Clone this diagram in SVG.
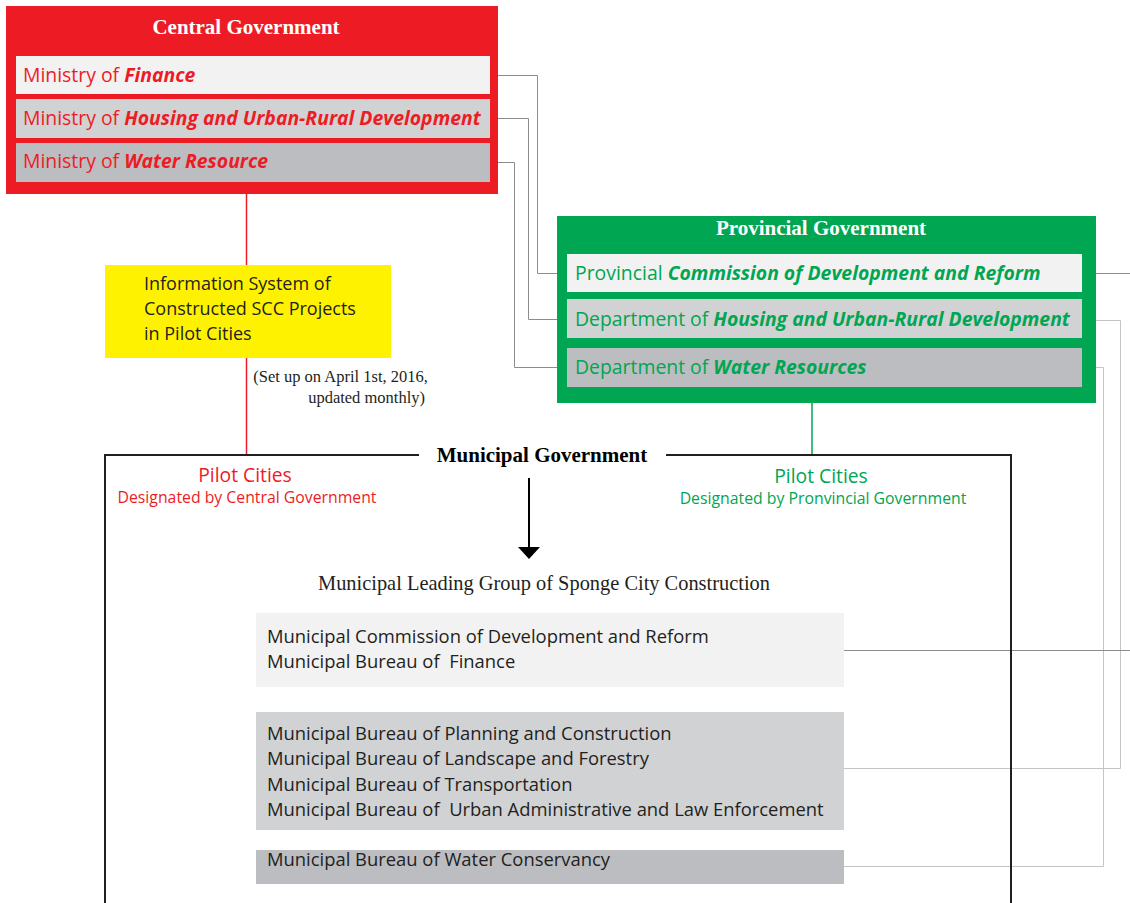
<svg xmlns="http://www.w3.org/2000/svg" width="1130" height="903" viewBox="0 0 1130 903">
  <style>
    .sans { font-family: "Open Sans", "Noto Sans", sans-serif; }
    .serif { font-family: "Liberation Serif", "DejaVu Serif", serif; }
    .title { font-family: "Liberation Serif", serif; font-weight: bold; font-size: 21px; text-anchor: middle; }
    .row-lt { fill: #F2F2F2; }
    .row-md { fill: #D1D2D4; }
    .row-dk { fill: #BCBDC0; }
    .red { fill: #ED1C24; }
    .green { fill: #00A651; }
    .em { font-weight: bold; font-style: italic; }
    .lvl { font-family: "Open Sans", sans-serif; font-size: 19.4px; }
    .muni { font-family: "Open Sans", sans-serif; font-size: 18.4px; fill: #231F20; }
    .link { fill: none; stroke: #8C8C8C; stroke-width: 1; }
    .link-lt { fill: none; stroke: #C4C4C4; stroke-width: 1; }
  </style>
  <defs>
    <marker id="arrow" markerWidth="12" markerHeight="22" refX="0" refY="11" orient="auto" markerUnits="userSpaceOnUse" viewBox="0 0 12 22">
      <path d="M0,0 L12,11 L0,22 Z" fill="#000"/>
    </marker>
  </defs>

  <rect width="1130" height="903" fill="#FFFFFF"/>

  <!-- connectors -->
  <g id="connectors">
    <!-- central ministries to provincial departments -->
    <polyline class="link" points="490,75.5 537.5,75.5 537.5,273.5 567,273.5"/>
    <polyline class="link" points="490,118.5 528.5,118.5 528.5,319.5 567,319.5"/>
    <polyline class="link" points="490,162.5 514.5,162.5 514.5,367.5 567,367.5"/>
    <!-- provincial departments to municipal bureaus -->
    <polyline class="link" points="1082,273.5 1130,273.5"/>
    <polyline class="link-lt" points="1082,320.5 1120.5,320.5 1120.5,768.5 844,768.5"/>
    <polyline class="link-lt" points="1082,367.5 1103.5,367.5 1103.5,866.5 844,866.5"/>
    <polyline class="link" points="844,650.5 1130,650.5"/>
    <!-- vertical links into municipal level -->
    <line x1="246.5" y1="194" x2="246.5" y2="265" stroke="#ED1C24" stroke-width="1.5"/>
    <line x1="246.5" y1="358" x2="246.5" y2="455" stroke="#ED1C24" stroke-width="1.5"/>
    <line x1="812" y1="403" x2="812" y2="455" stroke="#00A651" stroke-width="1.5"/>
    <!-- arrow to leading group -->
    <line x1="529" y1="478" x2="529" y2="547" stroke="#000" stroke-width="2" marker-end="url(#arrow)"/>
  </g>

  <!-- central government -->
  <g id="central">
    <rect x="6" y="6" width="492" height="188" fill="#ED1C24"/>
    <text class="title" x="246" y="34" fill="#FFFFFF">Central Government</text>
    <rect class="row-lt" x="16" y="56" width="474" height="38"/>
    <rect class="row-md" x="16" y="99" width="474" height="39"/>
    <rect class="row-dk" x="16" y="143" width="474" height="39"/>
    <text class="lvl red" x="23" y="82">Ministry of <tspan class="em">Finance</tspan></text>
    <text class="lvl red" x="23" y="125">Ministry of <tspan class="em">Housing and Urban-Rural Development</tspan></text>
    <text class="lvl red" x="23" y="168">Ministry of <tspan class="em">Water Resource</tspan></text>
  </g>

  <!-- information system -->
  <g id="info-system">
    <rect x="105" y="265" width="286" height="93" fill="#FFF200"/>
    <text class="sans" font-size="18" fill="#231F20">
      <tspan x="144" y="290">Information System of</tspan>
      <tspan x="144" y="315">Constructed SCC Projects</tspan>
      <tspan x="144" y="340">in Pilot Cities</tspan>
    </text>
  </g>
  <g id="info-note">
    <text class="serif" font-size="16.5" fill="#231F20" text-anchor="end">
      <tspan x="432" y="382">(Set up on April 1st, 2016,</tspan>
      <tspan x="425" y="403">updated monthly)</tspan>
    </text>
  </g>

  <!-- provincial government -->
  <g id="provincial">
    <rect x="557" y="216" width="539" height="187" fill="#00A651"/>
    <text class="title" x="821" y="235" fill="#FFFFFF">Provincial Government</text>
    <rect class="row-lt" x="567" y="254" width="515" height="38"/>
    <rect class="row-md" x="567" y="299" width="515" height="39"/>
    <rect class="row-dk" x="567" y="348" width="515" height="39"/>
    <text class="lvl green" x="575" y="280">Provincial <tspan class="em">Commission of Development and Reform</tspan></text>
    <text class="lvl green" x="575" y="326">Department of <tspan class="em">Housing and Urban-Rural Development</tspan></text>
    <text class="lvl green" x="575" y="374">Department of <tspan class="em">Water Resources</tspan></text>
  </g>

  <!-- municipal government -->
  <g id="municipal">
    <path d="M419,455 H105 V903 M666,455 H1011 V903" fill="none" stroke="#231F20" stroke-width="2"/>
    <text class="title" x="542" y="462" fill="#000">Municipal Government</text>
    <text class="sans red" font-size="19.3" x="245" y="482" text-anchor="middle">Pilot Cities</text>
    <text class="sans red" font-size="15.8" x="247" y="503" text-anchor="middle">Designated by Central Government</text>
    <text class="sans green" font-size="19.3" x="821" y="483" text-anchor="middle">Pilot Cities</text>
    <text class="sans green" font-size="15.8" x="823" y="504" text-anchor="middle">Designated by Pronvincial Government</text>
  </g>

  <!-- leading group -->
  <g id="leading-group">
    <text class="serif" font-size="20.4" x="544" y="590" fill="#231F20" text-anchor="middle">Municipal Leading Group of Sponge City Construction</text>
    <rect class="row-lt" x="256" y="613" width="588" height="74"/>
    <rect class="row-md" x="256" y="712" width="588" height="118"/>
    <rect class="row-dk" x="256" y="850" width="588" height="34"/>
    <text class="muni">
      <tspan x="267" y="643">Municipal Commission of Development and Reform</tspan>
      <tspan x="267" y="668">Municipal Bureau of&#160; Finance</tspan>
    </text>
    <text class="muni">
      <tspan x="267" y="740">Municipal Bureau of Planning and Construction</tspan>
      <tspan x="267" y="765">Municipal Bureau of Landscape and Forestry</tspan>
      <tspan x="267" y="791">Municipal Bureau of Transportation</tspan>
      <tspan x="267" y="816">Municipal Bureau of&#160; Urban Administrative and Law Enforcement</tspan>
    </text>
    <text class="muni">
      <tspan x="267" y="866">Municipal Bureau of Water Conservancy</tspan>
    </text>
  </g>
</svg>
